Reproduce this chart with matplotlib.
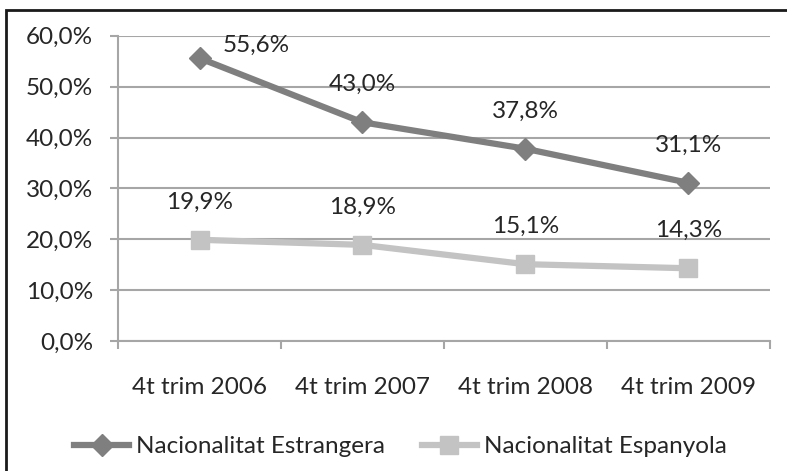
import matplotlib
matplotlib.use("Agg")
import matplotlib.pyplot as plt
from matplotlib.patches import Rectangle

categories = ["4t trim 2006", "4t trim 2007", "4t trim 2008", "4t trim 2009"]
estrangera = [55.6, 43.0, 37.8, 31.1]
espanyola = [19.9, 18.9, 15.1, 14.3]
label_estrangera = "Nacionalitat Estrangera"
label_espanyola = "Nacionalitat Espanyola"

plt.rcParams['font.family'] = ['Lato', 'DejaVu Sans']
text_color = "#262626"
fs = 17.5

fig = plt.figure(figsize=(7.87, 4.71), dpi=100)
ax = fig.add_axes([0.150, 0.276, 0.828, 0.648])

x = list(range(len(categories)))
ax.plot(x, estrangera, color="#7f7f7f", lw=4.5, marker="D", ms=11,
        label=label_estrangera, zorder=3)
ax.plot(x, espanyola, color="#c3c3c3", lw=4.5, marker="s", ms=13,
        label=label_espanyola, zorder=3)

# etiquetes de dades
for i, v in enumerate(estrangera):
    dx = 41 if i == 0 else 0
    dy = 9 if i == 0 else 27
    ax.annotate(f"{v:.1f}%".replace(".", ","), (i, v), xytext=(dx, dy),
                textcoords="offset points", ha="center", va="center",
                fontsize=fs, color=text_color)
for i, v in enumerate(espanyola):
    ax.annotate(f"{v:.1f}%".replace(".", ","), (i, v), xytext=(0, 27),
                textcoords="offset points", ha="center", va="center",
                fontsize=fs, color=text_color)

ax.set_xlim(-0.5, len(categories) - 0.5)
ax.set_ylim(0, 60)
ax.set_yticks(range(0, 61, 10))
ax.set_yticklabels([f"{t:.1f}%".replace(".", ",") for t in range(0, 61, 10)])
ax.set_xticks([i - 0.5 for i in range(len(categories) + 1)], minor=False)
ax.set_xticklabels([])
ax.set_xticks(x, minor=True)
ax.set_xticklabels(categories, minor=True)

ax.yaxis.grid(True, color="#a6a6a6", lw=1.5)
ax.set_axisbelow(True)
for s in ["top", "right"]:
    ax.spines[s].set_visible(False)
for s in ["left", "bottom"]:
    ax.spines[s].set_color("#a6a6a6")
    ax.spines[s].set_linewidth(1.5)
ax.tick_params(axis="y", length=6, width=1.5, color="#a6a6a6", pad=12,
               labelsize=fs, labelcolor=text_color)
ax.tick_params(axis="x", which="major", length=6, width=1.5, color="#a6a6a6")
ax.tick_params(axis="x", which="minor", length=0, pad=26,
               labelsize=fs, labelcolor=text_color)

leg = fig.legend(loc="center", bbox_to_anchor=(0.509, 0.051), ncol=2,
                 frameon=False, fontsize=fs, handlelength=2.26,
                 handletextpad=0.3, columnspacing=1.5, labelcolor=text_color)

# marc del gràfic
fig.patches.append(Rectangle((0.008, -0.1), 1.2, 1.079, transform=fig.transFigure,
                             fill=False, edgecolor="#1a1a1a", lw=2))

fig.savefig("out.png", dpi=100)
